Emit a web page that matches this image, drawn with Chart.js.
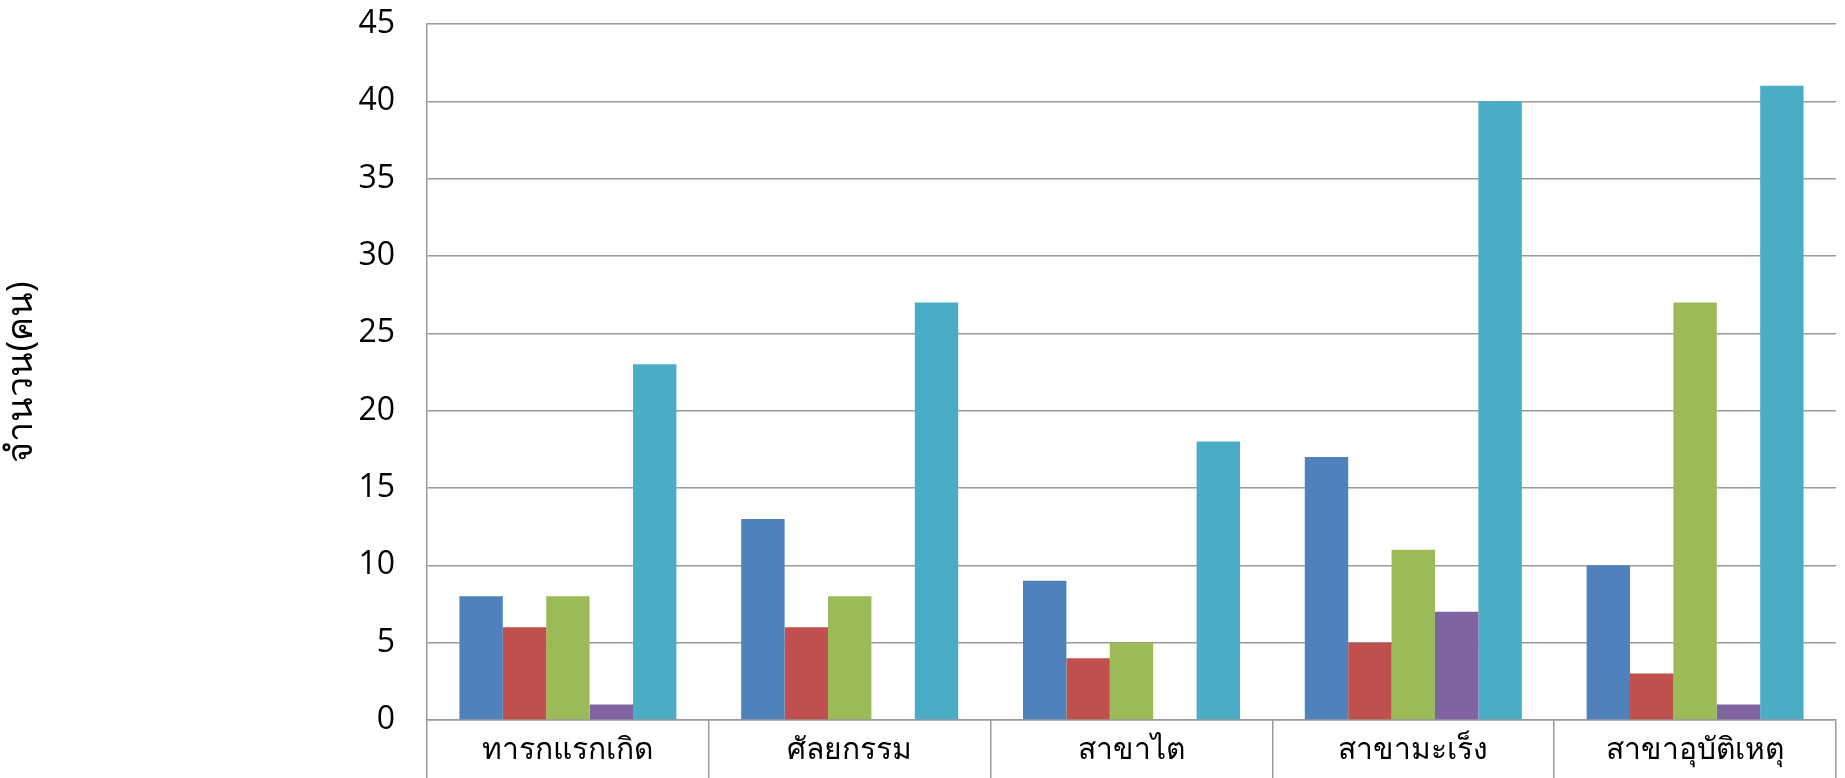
<!DOCTYPE html>
<html>
<head>
<meta charset="utf-8">
<script src="https://cdn.jsdelivr.net/npm/chart.js@4"></script>
<style>
  html, body { margin: 0; padding: 0; background: #fff; }
  #wrap { width: 1845px; height: 778px; }
</style>
</head>
<body>
<div id="wrap"><canvas id="wardChart"></canvas></div>
<script>
const categories = ['ทารกแรกเกิด', 'ศัลยกรรม', 'สาขาไต', 'สาขามะเร็ง', 'สาขาอุบัติเหตุ'];
const series1 = [8, 13, 9, 17, 10];
const series2 = [6, 6, 4, 5, 3];
const series3 = [8, 8, 5, 11, 27];
const series4 = [1, 0, 0, 7, 1];
const series5 = [23, 27, 18, 40, 41];
const yTicks = [0, 5, 10, 15, 20, 25, 30, 35, 40, 45];

const colors = ['#4F81BD', '#C0504D', '#9BBB59', '#8064A2', '#4BACC6'];
const allSeries = [series1, series2, series3, series4, series5];

const fontFamily = "'Liberation Sans Narrow', 'Open Sans', 'Noto Sans', 'DejaVu Sans', sans-serif";
const gridColor = '#9a9a9a';

new Chart(document.getElementById('wardChart').getContext('2d'), {
    type: 'bar',
    data: {
        labels: categories,
        datasets: allSeries.map((vals, i) => ({
            label: 'Series ' + (i + 1),
            data: vals,
            backgroundColor: colors[i],
            borderWidth: 0,
            barPercentage: 1,
            categoryPercentage: 0.77
        }))
    },
    options: {
        responsive: true,
        maintainAspectRatio: false,
        animation: false,
        layout: { padding: { top: 24, right: 9, bottom: 0, left: 0 } },
        plugins: {
            legend: { display: false },
            tooltip: { enabled: false }
        },
        scales: {
            x: {
                offset: true,
                grid: {
                    offset: true,
                    drawOnChartArea: false,
                    drawTicks: true,
                    tickLength: 58,
                    color: gridColor,
                    lineWidth: 1.5
                },
                border: { color: gridColor, width: 1.5 },
                ticks: {
                    padding: -46,
                    color: '#000',
                    font: { family: fontFamily, size: 30 }
                },
                afterFit: function(scale) {
                    scale.height = 58;
                    scale.paddingTop = 0;
                    scale.paddingBottom = 0;
                }
            },
            y: {
                min: 0,
                max: 45,
                afterBuildTicks: function(scale) {
                    scale.ticks = yTicks.map(v => ({ value: v }));
                },
                grid: {
                    drawTicks: false,
                    color: gridColor,
                    lineWidth: 1.5
                },
                border: { color: gridColor, width: 1.5 },
                ticks: {
                    padding: 32,
                    color: '#000',
                    font: { family: fontFamily, size: 32 }
                },
                title: {
                    display: true,
                    text: 'จำนวน(คน)',
                    color: '#000',
                    font: { family: fontFamily, size: 36 },
                    padding: { top: 0, bottom: 0 }
                },
                afterFit: function(scale) {
                    scale.width = 427;
                    scale.paddingTop = 0;
                    scale.paddingBottom = 0;
                }
            }
        }
    }
});
</script>
</body>
</html>
